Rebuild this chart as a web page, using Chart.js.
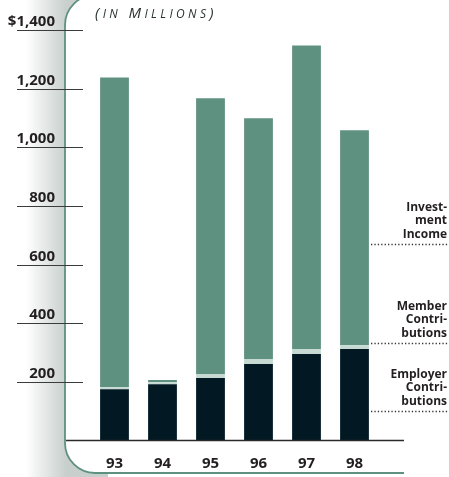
<!DOCTYPE html>
<html>
<head>
<meta charset="utf-8">
<title>Revenue sources</title>
<script src="https://cdn.jsdelivr.net/npm/chart.js@4"></script>
<style>
    html, body { margin: 0; padding: 0; background: #ffffff; }
    #wrap { width: 449px; height: 477px; }
</style>
</head>
<body>
<div id="wrap"><canvas id="revenueChart" width="449" height="477"></canvas></div>
<script>
// Fiscal years and revenue components (in millions)
const years = ['93', '94', '95', '96', '97', '98'];
const employerContrib = [175, 192, 213, 261, 295, 312];
const memberContrib = [7, 7, 14, 17, 17, 13];
const investmentIncome = [1056, 7, 940, 821, 1035, 733];

const yTickValues = [200, 400, 600, 800, 1000, 1200, 1400];
const yTickLabels = ['200', '400', '600', '800', '1,000', '1,200', '$1,400'];

const seriesNotes = [
    ['Invest-', 'ment', 'Income'],
    ['Member', 'Contri-', 'butions'],
    ['Employer', 'Contri-', 'butions']
];

const GREEN = '#5f9181';
const PALE = '#c6dad3';
const NAVY = '#021924';
const INK = '#231f20';
const FONT = '"Open Sans", "Noto Sans", sans-serif';

// Rounded green frame with a soft shadow down the left side
const framePlugin = {
    id: 'frame',
    beforeDraw(chart) {
        const ctx = chart.ctx;
        ctx.save();
        const grad = ctx.createLinearGradient(26, 0, 66, 0);
        grad.addColorStop(0, 'rgba(190, 199, 196, 0)');
        grad.addColorStop(1, 'rgba(190, 199, 196, 0.85)');
        ctx.fillStyle = grad;
        ctx.fillRect(26, 0, 82, 477);

        ctx.beginPath();
        ctx.moveTo(449, -5);
        ctx.lineTo(95, -5);
        ctx.arcTo(65, -5, 65, 25, 30);
        ctx.lineTo(65, 443);
        ctx.arcTo(65, 473, 95, 473, 30);
        ctx.lineTo(449, 473);
        ctx.closePath();
        ctx.fillStyle = '#ffffff';
        ctx.fill();

        ctx.beginPath();
        ctx.moveTo(95, -5);
        ctx.arcTo(65, -5, 65, 25, 30);
        ctx.lineTo(65, 443);
        ctx.arcTo(65, 473, 95, 473, 30);
        ctx.lineTo(404, 473);
        ctx.strokeStyle = GREEN;
        ctx.lineWidth = 1.8;
        ctx.stroke();
        ctx.restore();
    }
};

// Title, value ticks, year labels, baseline and the series notes at right
const labelsPlugin = {
    id: 'labels',
    afterDatasetsDraw(chart) {
        const ctx = chart.ctx;
        const x = chart.scales.x;
        const y = chart.scales.y;
        ctx.save();

        // value ticks on the left
        ctx.font = 'bold 15px ' + FONT;
        ctx.fillStyle = INK;
        ctx.textAlign = 'right';
        ctx.textBaseline = 'alphabetic';
        yTickValues.forEach((v, i) => {
            const py = Math.round(y.getPixelForValue(v)) + 0.5;
            ctx.strokeStyle = '#3b3b3b';
            ctx.lineWidth = 1.2;
            ctx.beginPath();
            ctx.moveTo(17, py);
            ctx.lineTo(83, py);
            ctx.stroke();
            ctx.fillText(yTickLabels[i], 55, py - 4.5);
        });

        // baseline
        const by = y.getPixelForValue(0);
        ctx.strokeStyle = '#2b2b2b';
        ctx.lineWidth = 1.6;
        ctx.beginPath();
        ctx.moveTo(66, by);
        ctx.lineTo(404, by);
        ctx.stroke();

        // year labels
        ctx.textAlign = 'center';
        years.forEach((yr, i) => {
            ctx.fillText(yr, x.getPixelForValue(i), 468);
        });

        // title in small caps
        const title = '(in Millions)';
        let tx = 95;
        ctx.fillStyle = '#27332f';
        ctx.textAlign = 'left';
        for (const ch of title) {
            const small = ch !== ch.toUpperCase();
            ctx.font = 'italic 500 ' + (small ? 12 : 15) + 'px ' + FONT;
            const glyph = ch.toUpperCase();
            ctx.fillText(glyph, tx, 18);
            tx += ctx.measureText(glyph).width + 3.4;
        }

        // series notes with dotted leaders
        const noteBottoms = [244, 343, 411];
        ctx.font = 'bold 12px ' + FONT;
        ctx.fillStyle = INK;
        ctx.textAlign = 'right';
        seriesNotes.forEach((lines, k) => {
            const base = noteBottoms[k];
            lines.forEach((ln, j) => {
                ctx.fillText(ln, 447, base - 6.5 - (lines.length - 1 - j) * 13.5);
            });
            ctx.strokeStyle = '#333333';
            ctx.lineWidth = 1.3;
            ctx.setLineDash([1.3, 2.1]);
            ctx.beginPath();
            ctx.moveTo(371, base + 0.5);
            ctx.lineTo(448, base + 0.5);
            ctx.stroke();
            ctx.setLineDash([]);
        });

        ctx.restore();
    }
};

new Chart(document.getElementById('revenueChart'), {
    type: 'bar',
    data: {
        labels: years,
        datasets: [
            { label: 'Employer Contributions', data: employerContrib, backgroundColor: NAVY },
            { label: 'Member Contributions', data: memberContrib, backgroundColor: PALE },
            { label: 'Investment Income', data: investmentIncome, backgroundColor: GREEN }
        ]
    },
    options: {
        responsive: false,
        animation: false,
        devicePixelRatio: 1,
        datasets: {
            bar: { categoryPercentage: 0.6, barPercentage: 1.0, borderWidth: 0 }
        },
        layout: { padding: { left: 90.5, right: 70.5, top: 30, bottom: 36.5 } },
        scales: {
            x: { stacked: true, display: false },
            y: { stacked: true, display: false, min: 0, max: 1400 }
        },
        plugins: {
            legend: { display: false },
            tooltip: { enabled: false }
        }
    },
    plugins: [framePlugin, labelsPlugin]
});
</script>
</body>
</html>
